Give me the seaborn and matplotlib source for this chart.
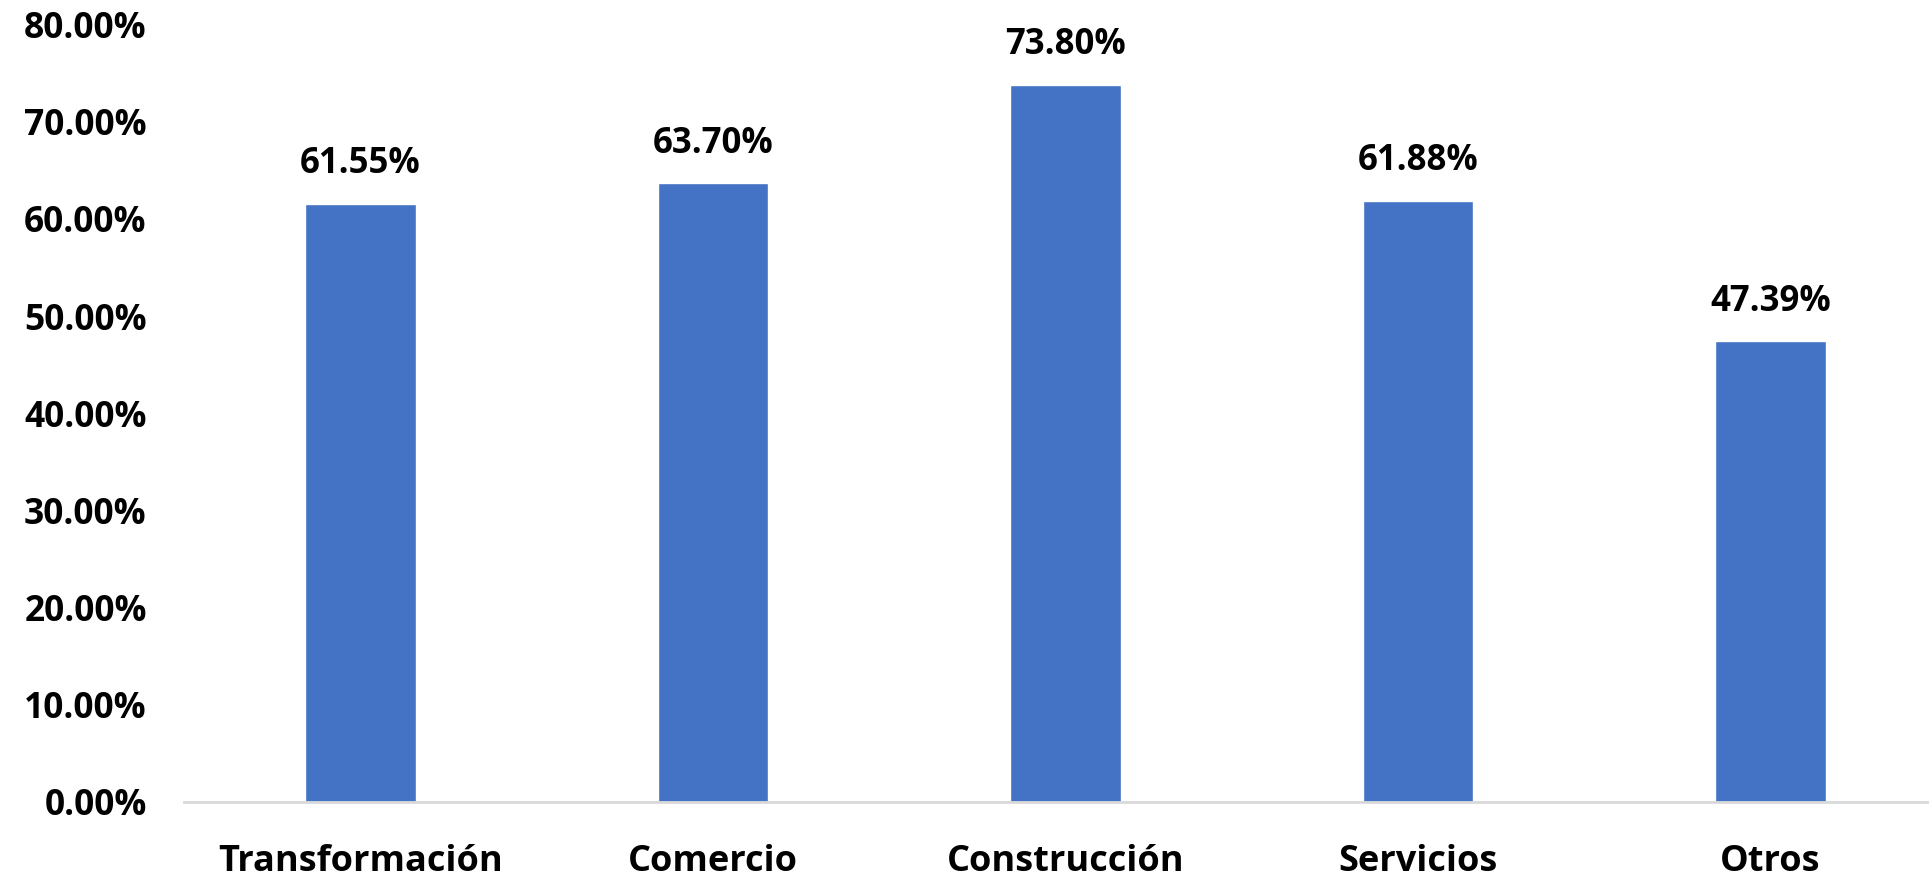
import numpy as np
import pandas as pd
import seaborn as sns
from matplotlib import pyplot as plt
from matplotlib.ticker import PercentFormatter

# Datos del gráfico
sectores = ['Transformación', 'Comercio', 'Construcción', 'Servicios', 'Otros']
porcentajes = [61.55, 63.70, 73.80, 61.88, 47.39]
marcas_y = [0, 10, 20, 30, 40, 50, 60, 70, 80]

df = pd.DataFrame({'sector': sectores, 'pct': porcentajes})

sns.set_theme(style='white')
plt.rcParams['font.family'] = ['Open Sans', 'DejaVu Sans']
plt.rcParams['font.weight'] = 'bold'

fig = plt.figure(figsize=(19.29, 8.76), dpi=100)
ax = fig.add_axes([0.0955, 0.0845, 0.9045, 0.8875])

sns.barplot(data=df, x='sector', y='pct', color='#4472C4', width=0.314,
            saturation=1, ax=ax)

# Etiquetas de valor encima de cada barra
for i, v in enumerate(porcentajes):
    ax.text(i, v + 2.2, f'{v:.2f}%', ha='center', va='bottom',
            fontsize=25, fontweight='bold', color='black')

ax.set_ylim(0, 80)
ax.set_xlim(-0.5, 4.45)
ax.set_yticks(marcas_y)
ax.yaxis.set_major_formatter(PercentFormatter(decimals=2))
ax.set_xlabel('')
ax.set_ylabel('')
ax.tick_params(axis='y', labelsize=25.5, length=0, pad=27)
ax.tick_params(axis='x', labelsize=26, length=0, pad=30)
for lab in ax.get_xticklabels() + ax.get_yticklabels():
    lab.set_fontweight('bold')
    lab.set_color('black')

for s in ['top', 'right', 'left']:
    ax.spines[s].set_visible(False)
ax.spines['bottom'].set_color('#d9d9d9')
ax.spines['bottom'].set_linewidth(2)
ax.grid(False)

fig.savefig('out.png', dpi=100, facecolor='white')
